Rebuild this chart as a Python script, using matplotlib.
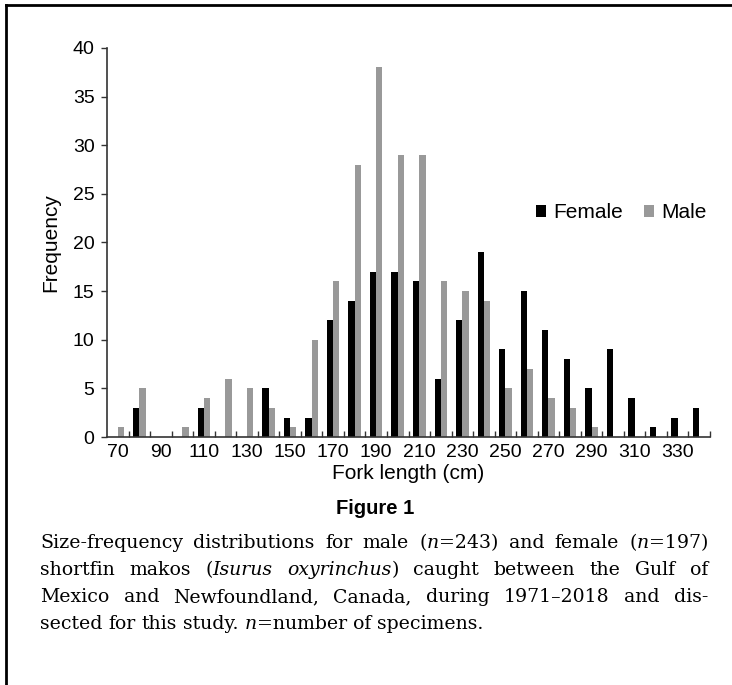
import numpy as np
import matplotlib
matplotlib.use("Agg")
import matplotlib.pyplot as plt
from matplotlib.lines import Line2D

# =========================
# DATA
# =========================
bins = list(range(70, 350, 10))
female = [0, 3, 0, 0, 3, 0, 0, 5, 2, 2, 12, 14, 17, 17, 16, 6, 12, 19, 9, 15, 11, 8, 5, 9, 4, 1, 2, 3]
male = [1, 5, 0, 1, 4, 6, 5, 3, 1, 10, 16, 28, 38, 29, 29, 16, 15, 14, 5, 7, 4, 3, 1, 0, 0, 0, 0, 0]
series_names = ["Female", "Male"]
series_colors = ["#000000", "#999999"]
yticks = [0, 5, 10, 15, 20, 25, 30, 35, 40]

caption_lines = [
    [[("Size-frequency", 0)], [("distributions", 0)], [("for", 0)], [("male", 0)],
     [("(", 0), ("n", 1), ("=243)", 0)], [("and", 0)], [("female", 0)],
     [("(", 0), ("n", 1), ("=197)", 0)]],
    [[("shortfin", 0)], [("makos", 0)], [("(", 0), ("Isurus", 1)], [("oxyrinchus", 1), (")", 0)],
     [("caught", 0)], [("between", 0)], [("the", 0)], [("Gulf", 0)], [("of", 0)]],
    [[("Mexico", 0)], [("and", 0)], [("Newfoundland,", 0)], [("Canada,", 0)], [("during", 0)],
     [("1971\u20132018", 0)], [("and", 0)], [("dis-", 0)]],
    [[("sected", 0)], [("for", 0)], [("this", 0)], [("study.", 0)], [("n", 1), ("=number", 0)],
     [("of", 0)], [("specimens.", 0)]],
]

plt.rcParams["font.family"] = ["Liberation Sans", "DejaVu Sans"]

W, H = 732, 685
fig = plt.figure(figsize=(W / 100, H / 100), dpi=100)
ax = fig.add_axes([107 / W, 1 - 437 / H, (710 - 107) / W, (437 - 48) / H])

x = np.arange(len(bins))
bw = 0.29
ax.bar(x - bw / 2, female, width=bw, color=series_colors[0], label=series_names[0])
ax.bar(x + bw / 2, male, width=bw, color=series_colors[1], label=series_names[1])

ax.set_xlim(-0.5, len(bins) - 0.5)
ax.set_ylim(0, 40)
ax.set_yticks(yticks)
ax.tick_params(axis="y", direction="out", length=4, width=1, colors="#333333",
               labelcolor="black", labelsize=14, pad=5)

# labels at every other bin centre, ticks at bin edges
ax.set_xticks(x[::2])
ax.set_xticklabels([str(b) for b in bins[::2]])
ax.tick_params(axis="x", which="major", length=0, labelsize=14, pad=5)
ax.set_xticks(np.arange(len(bins)) + 0.5, minor=True)
ax.tick_params(axis="x", which="minor", direction="in", length=4, width=1, colors="#333333")

for s in ["top", "right"]:
    ax.spines[s].set_visible(False)
for s in ["left", "bottom"]:
    ax.spines[s].set_color("#333333")
    ax.spines[s].set_linewidth(1.2)

ax.set_ylabel("Frequency", fontsize=15, labelpad=9)
ax.set_xlabel("Fork length (cm)", fontsize=15, labelpad=2)

ax.legend(loc="center right", bbox_to_anchor=(0.995, 0.576), ncol=2, frameon=False,
          fontsize=15, handlelength=0.5, handleheight=0.5, handletextpad=0.35,
          columnspacing=1.0, borderaxespad=0, borderpad=0)

# =========================
# FIGURE TITLE + CAPTION
# =========================
fig.text(375 / W, 1 - 508 / H, "Figure 1", ha="center", va="center",
         fontsize=14.5, fontweight="bold",
         family=["Liberation Sans Narrow", "Liberation Sans", "DejaVu Sans"])

serif = ["DejaVu Serif"]
cap_size = 13.6
x0, x1 = 40, 708
line_y = [543, 570, 597, 624]

fig.canvas.draw()
renderer = fig.canvas.get_renderer()


def piece_width(txt, italic):
    t = fig.text(0, 0, txt, fontsize=cap_size, family=serif,
                 style="italic" if italic else "normal")
    w = t.get_window_extent(renderer).width
    t.remove()
    return w


space_w = piece_width("a b", 0) - piece_width("ab", 0)

for li, words in enumerate(caption_lines):
    widths = [[piece_width(p, it) for p, it in word] for word in words]
    total = sum(sum(ws) for ws in widths)
    last = li == len(caption_lines) - 1
    gap = space_w if last else (x1 - x0 - total) / (len(words) - 1)
    cx = x0
    y = 1 - line_y[li] / H
    for word, ws in zip(words, widths):
        for (p, it), w in zip(word, ws):
            fig.text(cx / W, y, p, fontsize=cap_size, family=serif,
                     style="italic" if it else "normal", ha="left", va="center")
            cx += w
        cx += gap

# page frame: top and left rule
fig.add_artist(Line2D([6 / W, 1], [1 - 5 / H, 1 - 5 / H], color="black", lw=2))
fig.add_artist(Line2D([6 / W, 6 / W], [0, 1 - 5 / H], color="black", lw=2))

fig.savefig("out.png", dpi=100)
